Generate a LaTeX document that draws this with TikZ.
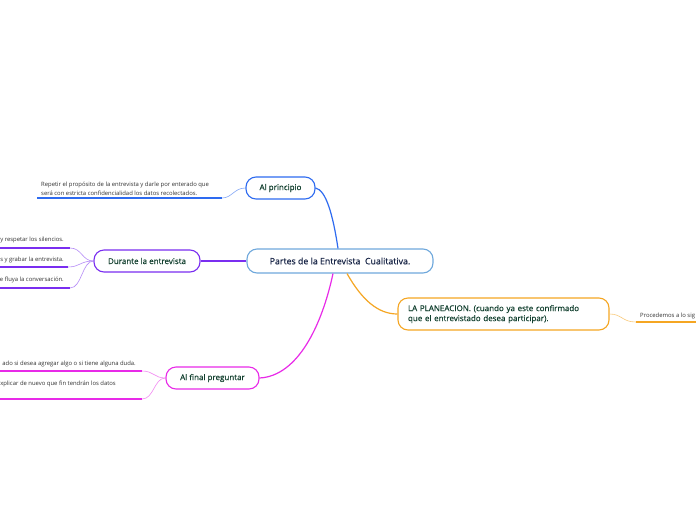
\documentclass[tikz,border=0pt]{standalone}
\usepackage{fontspec}
\setmainfont{Open Sans}
\newfontfamily\nodefont[FakeBold=0.5]{Open Sans}
\definecolor{cblue}{HTML}{2E6BF0}
\definecolor{cpurple}{HTML}{7A2EF0}
\definecolor{cmag}{HTML}{E82AE8}
\definecolor{corange}{HTML}{F5A623}
\definecolor{clight}{HTML}{6FA8DC}
\definecolor{ctext}{HTML}{12402F}
\definecolor{cnavy}{HTML}{1A2748}
\definecolor{cgray}{HTML}{333333}
\tikzset{
  topic/.style={draw, line width=1.1pt, rounded corners=10pt, fill=white, inner sep=0pt, text=ctext, font=\nodefont\fontsize{8}{10}\selectfont},
  leaf/.style={inner sep=0pt, text=cgray, font=\fontsize{5.9}{9}\selectfont, align=left},
  conn/.style={line width=1.2pt},
  thin/.style={line width=0.6pt},
  under/.style={line width=2pt}
}
\begin{document}
\begin{tikzpicture}[x=1pt,y=-1pt]
\useasboundingbox (0,0) rectangle (696,520);
\fill[white] (0,0) rectangle (696,520);

% main nodes
\node[topic, draw=clight, text=cnavy, minimum width=186pt, minimum height=24pt, font=\nodefont\fontsize{8.8}{11}\selectfont] (c) at (340,261) {Partes de la Entrevista\ \ Cualitativa.};
\node[topic, draw=cblue, minimum width=69pt, minimum height=22pt] (ap) at (280.5,188) {Al principio};
\node[topic, draw=cpurple, minimum width=106pt, minimum height=22pt] (de) at (147,261) {Durante la entrevista};
\node[topic, draw=cmag, minimum width=93pt, minimum height=22pt] (af) at (212.5,378) {Al final preguntar};
\node[topic, draw=corange, minimum width=211pt, minimum height=32pt, align=left, text width=191pt] (pl) at (503.5,314) {LA PLANEACION. (cuando ya este confirmado\\que el entrevistado desea participar).};

% main connectors
\draw[conn, cblue] (c.north -| 338,0) .. controls (333,215) and (326,190) .. (ap.east);
\draw[conn, cpurple] (c.west) -- (de.east);
\draw[conn, cmag] (c.south -| 333,0) .. controls (322,325) and (298,376) .. (af.east);
\draw[conn, corange] (c.south -| 347,0) .. controls (362,300) and (378,314) .. (pl.west);

% Al principio leaf
\coordinate (ap1) at (222,198);
\node[leaf, anchor=south west] (t1) at (41,196) {Repetir el propósito de la entrevista y darle por enterado que\\será con estricta confidencialidad los datos recolectados.};
\draw[thin, cblue!60] (ap.west) .. controls (234,188) and (232,198) .. (ap1);
\draw[under, cblue] (ap1) -- (37,198);

% Durante leaves
\coordinate (d1) at (70,248);
\coordinate (d2) at (68,267);
\coordinate (d3) at (70,288);
\node[leaf, anchor=base east] (t2) at (64,241.5) {y respetar los silencios.};
\node[leaf, anchor=base east] (t3) at (64,261.5) {s y grabar la entrevista.};
\node[leaf, anchor=base east] (t4) at (64,281.5) {e fluya la conversación.};
\draw[thin, cpurple!55] (de.west) .. controls (82,261) and (82,248) .. (d1);
\draw[thin, cpurple!55] (de.west) .. controls (80,261) and (80,267) .. (d2);
\draw[thin, cpurple!55] (de.west) .. controls (82,261) and (82,288) .. (d3);
\draw[under, cpurple] (d1) -- (0,248);
\draw[under, cpurple] (d2) -- (0,267);
\draw[under, cpurple] (d3) -- (0,288);

% Al final leaves
\coordinate (f1) at (142,371);
\coordinate (f2) at (142,399);
\node[leaf, anchor=base east] (t5) at (136,365.5) {ado si desea agregar algo o si tiene alguna duda.};
\node[leaf, anchor=base east] (t6) at (116,385.5) {xplicar de nuevo que fin tendrán los datos};
\draw[thin, cmag!55] (af.west) .. controls (154,378) and (154,371) .. (f1);
\draw[thin, cmag!55] (af.west) .. controls (154,378) and (154,399) .. (f2);
\draw[under, cmag] (f1) -- (0,371);
\draw[under, cmag] (f2) -- (0,399);

% Planeacion leaf
\coordinate (p1) at (636,322);
\node[leaf, anchor=base west] (t7) at (640,317) {Procedemos a lo sig};
\draw[thin, corange!60] (pl.east) .. controls (622,314) and (622,322) .. (p1);
\draw[under, corange] (p1) -- (696,322);
\end{tikzpicture}
\end{document}
